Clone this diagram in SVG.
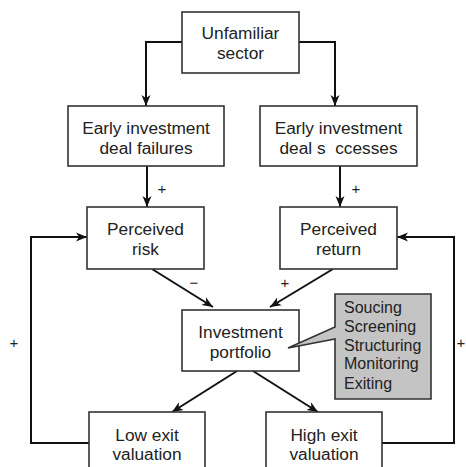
<svg xmlns="http://www.w3.org/2000/svg" width="466" height="467" viewBox="0 0 466 467">
<defs>
<marker id="ah" markerWidth="12" markerHeight="10" refX="11" refY="5" orient="auto" markerUnits="userSpaceOnUse">
<path d="M0,0.5 L11,5 L0,9.5 L3,5 Z" fill="#111"/>
</marker>
<style>
.box{fill:#fff;stroke:#333;stroke-width:1.6}
.t{font-family:"Liberation Sans",Arial,sans-serif;font-size:17.3px;fill:#222;text-anchor:middle}
.c{font-family:"Liberation Sans",Arial,sans-serif;font-size:16px;fill:#222}
.ln{fill:none;stroke:#111;stroke-width:2}
.s{font-family:"Liberation Sans",Arial,sans-serif;font-size:15px;fill:#222;text-anchor:middle}
</style>
</defs>
<rect width="466" height="467" fill="#fff"/>
<g id="connectors">
<path class="ln" d="M182,42 H146 V106" marker-end="url(#ah)"/>
<path class="ln" d="M299,42 H335 V106" marker-end="url(#ah)"/>
<path class="ln" d="M147,166 V207" marker-end="url(#ah)"/>
<path class="ln" d="M340,166 V207" marker-end="url(#ah)"/>
<path class="ln" d="M152,269 L213,307" marker-end="url(#ah)"/>
<path class="ln" d="M333,269 L270,307" marker-end="url(#ah)"/>
<path class="ln" d="M237,371 L172,412" marker-end="url(#ah)"/>
<path class="ln" d="M253,371 L318,412" marker-end="url(#ah)"/>
<path class="ln" d="M89,443 H31 V237 H87" marker-end="url(#ah)"/>
<path class="ln" d="M382,443 H454 V237 H397" marker-end="url(#ah)"/>
<text class="s" x="162" y="194">+</text>
<text class="s" x="356" y="194">+</text>
<text class="s" x="194" y="288">−</text>
<text class="s" x="285" y="288">+</text>
<text class="s" x="14" y="348">+</text>
<text class="s" x="461" y="348">+</text>
</g>
<g id="unfamiliar">
<rect class="box" x="182" y="12" width="117" height="61"/>
<text class="t" x="240.5" y="39">Unfamiliar</text>
<text class="t" x="240.5" y="59">sector</text>
</g>
<g id="failures">
<rect class="box" x="68" y="106" width="156" height="60"/>
<text class="t" x="146" y="134">Early investment</text>
<text class="t" x="146" y="154">deal failures</text>
</g>
<g id="successes">
<rect class="box" x="260" y="106" width="157" height="60"/>
<text class="t" x="338.5" y="134">Early investment</text>
<text class="t" x="338.5" y="154" xml:space="preserve">deal s  ccesses</text>
</g>
<g id="risk">
<rect class="box" x="87" y="207" width="117" height="62"/>
<text class="t" x="145.5" y="235">Perceived</text>
<text class="t" x="145.5" y="255">risk</text>
</g>
<g id="return">
<rect class="box" x="280" y="207" width="117" height="62"/>
<text class="t" x="338.5" y="235">Perceived</text>
<text class="t" x="338.5" y="255">return</text>
</g>
<g id="portfolio">
<rect class="box" x="182" y="310" width="117" height="61"/>
<text class="t" x="240.5" y="338">Investment</text>
<text class="t" x="240.5" y="358">portfolio</text>
</g>
<g id="callout">
<path d="M335,294 H431 V399 H335 V339 L288,348 L335,327 Z" fill="#c4c4c4" stroke="#333" stroke-width="1.6"/>
<text class="c" x="344" y="313">Soucing</text>
<text class="c" x="344" y="332">Screening</text>
<text class="c" x="344" y="351">Structuring</text>
<text class="c" x="344" y="369">Monitoring</text>
<text class="c" x="344" y="389">Exiting</text>
</g>
<g id="low">
<rect class="box" x="89" y="412" width="116" height="70"/>
<text class="t" x="147" y="441">Low exit</text>
<text class="t" x="147" y="460">valuation</text>
</g>
<g id="high">
<rect class="box" x="266" y="412" width="116" height="70"/>
<text class="t" x="324" y="441">High exit</text>
<text class="t" x="324" y="460">valuation</text>
</g>
</svg>
